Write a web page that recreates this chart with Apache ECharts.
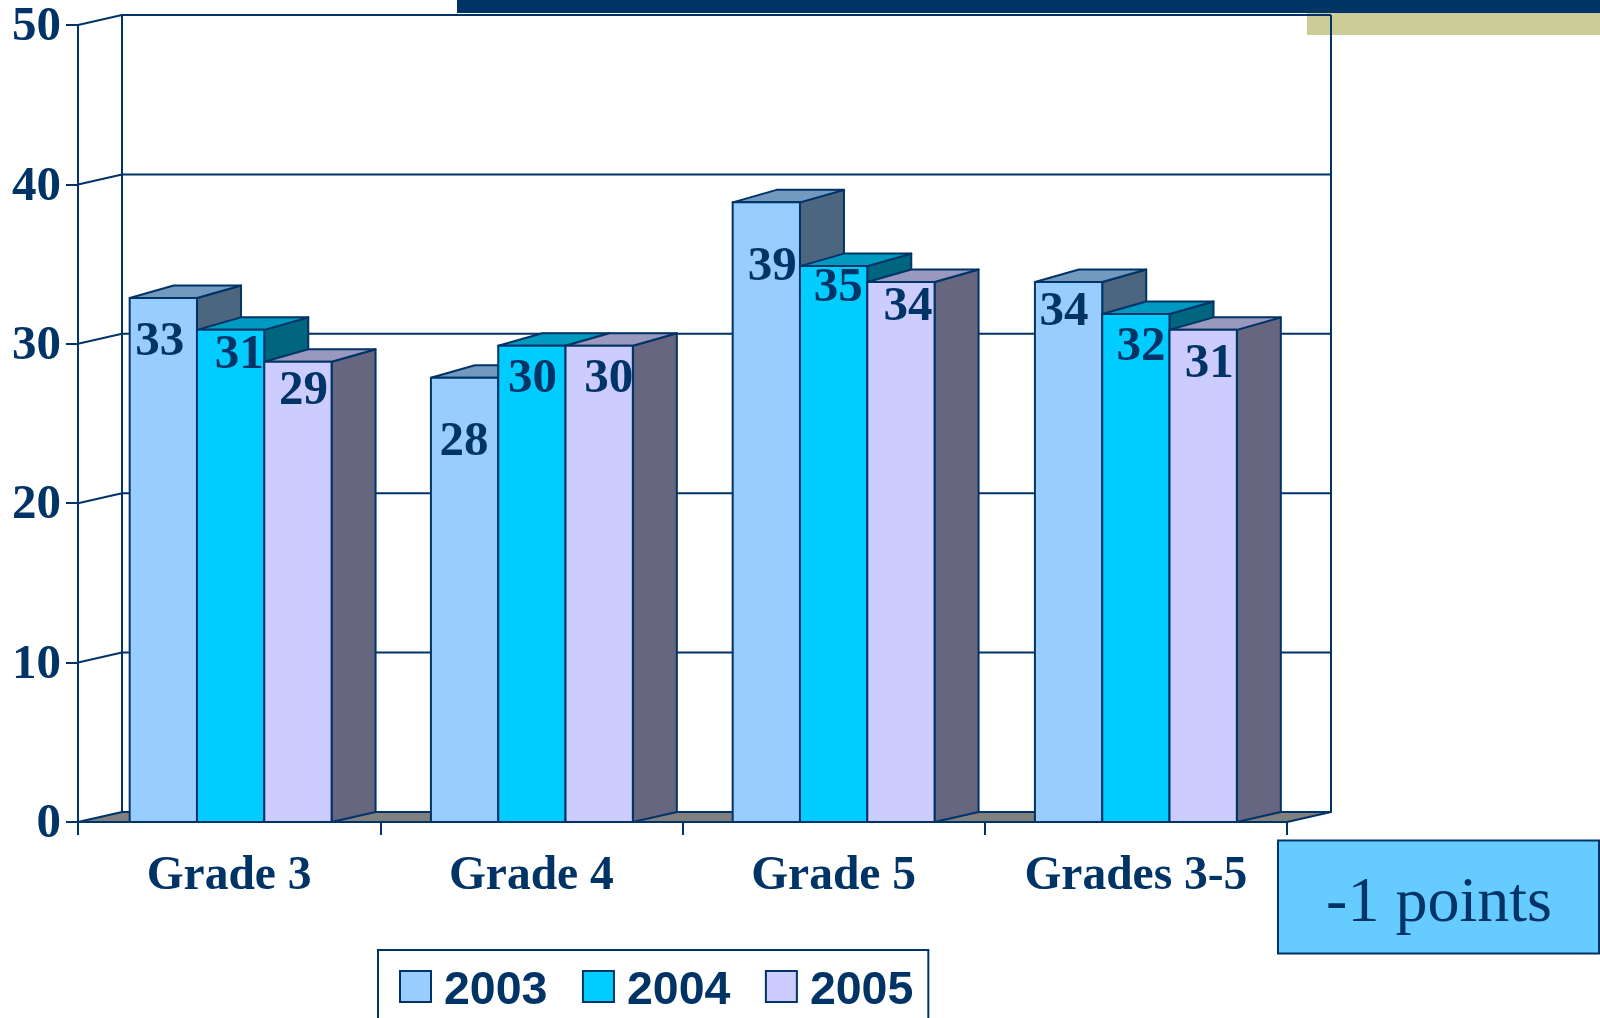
<!DOCTYPE html>
<html>
<head>
<meta charset="utf-8">
<style>html,body{margin:0;padding:0;background:#fff}#c{width:1600px;height:1018px}</style>
<script src="https://cdn.jsdelivr.net/npm/echarts@6/dist/echarts.min.js"></script>
</head>
<body>
<div id="c"></div>
<script>
// ---- data ----
const categories = ['Grade 3', 'Grade 4', 'Grade 5', 'Grades 3-5'];
const years = ['2003', '2004', '2005'];
const values2003 = [33, 28, 39, 34];
const values2004 = [31, 30, 35, 32];
const values2005 = [29, 30, 34, 31];
const yTicks = [0, 10, 20, 30, 40, 50];
const calloutText = '-1 points';

// ---- styling ----
const NAVY = '#003366';
const fronts = ['#99CCFF', '#00CCFF', '#CCCCFF'];
const tops = ['#7399BF', '#0099BF', '#9999BF'];
const sides = ['#4D6680', '#006680', '#666680'];
const DX = 44, DY = 10, TOP_DY = 12.5; // oblique depth of the 3D look
const TOP_INSET = 2;                   // the reference's bar tops sit 2px below the tick height
const BAR_FRACTION = 67.3 / 302.25;    // bar width as part of a category band
const LW = 2;
const SERIF = '"Liberation Serif","Times New Roman",serif';
// small sideways shift of each category's bar group in the reference
const groupNudge = [1.5, 0.5, 0, 0];
// hand-placed data labels of the reference: [dx from bar centre, dy from bar top]
const labelNudge = [
  [[-3, 43], [-1, 64], [5, 64], [-5.5, 29]],
  [[9, 24], [0, 33], [3.5, 21], [4, 32]],
  [[6, 29], [9, 33], [6, 24], [5, 33]]
];

function renderWall(params, api) {
  const g = params.coordSys;
  const v = api.value(0);
  const y = api.coord([0, v])[1];
  const left = g.x, right = g.x + g.width;
  const ls = { stroke: NAVY, lineWidth: LW, fill: null, lineJoin: 'round' };
  const kids = [];
  if (v === 0) {
    kids.push({ type: 'polygon', shape: { points: [[left, y], [left + DX, y - DY], [right + DX, y - DY], [right, y]] },
      style: { fill: '#808080', stroke: NAVY, lineWidth: LW, lineJoin: 'round' } });
    kids.push({ type: 'line', shape: { x1: left + DX, y1: g.y - DY, x2: left + DX, y2: y - DY }, style: ls });
    kids.push({ type: 'line', shape: { x1: right + DX, y1: g.y - DY, x2: right + DX, y2: y - DY }, style: ls });
  } else {
    kids.push({ type: 'polyline', shape: { points: [[left, y], [left + DX, y - DY], [right + DX, y - DY]] }, style: ls });
  }
  return { type: 'group', children: kids };
}

function makeBarRenderer(s) {
  return function (params, api) {
    const cat = api.value(0), v = api.value(1);
    const band = api.size([1, 0])[0];
    const w = band * BAR_FRACTION;
    const c = api.coord([cat, v]);
    const y0 = api.coord([cat, 0])[1];
    const x = c[0] + (s - 1.5) * w + groupNudge[cat], y = c[1] + TOP_INSET, r = x + w;
    const st = f => ({ fill: f, stroke: NAVY, lineWidth: LW, lineJoin: 'round' });
    const n = labelNudge[s][cat];
    return { type: 'group', children: [
      { type: 'polygon', shape: { points: [[r, y], [r + DX, y - TOP_DY], [r + DX, y0 - DY], [r, y0]] }, style: st(sides[s]) },
      { type: 'polygon', shape: { points: [[x, y], [x + DX, y - TOP_DY], [r + DX, y - TOP_DY], [r, y]] }, style: st(tops[s]) },
      { type: 'rect', shape: { x: x, y: y, width: w, height: y0 - y }, style: st(fronts[s]) },
      { type: 'text', z2: 10, style: { text: String(v), x: x + w / 2 + n[0] - groupNudge[cat] + 1, y: y + n[1] + 1, textAlign: 'center', textVerticalAlign: 'middle',
        font: 'bold 49px ' + SERIF, fill: NAVY } }
    ] };
  };
}

const allValues = [values2003, values2004, values2005];
const option = {
  backgroundColor: '#ffffff',
  animation: false,
  grid: { left: 78, top: 25, width: 1209, height: 797 },
  xAxis: {
    type: 'category', data: categories, z: 5,
    axisLine: { lineStyle: { color: NAVY, width: LW } },
    axisTick: { show: true, alignWithLabel: false, length: 13, lineStyle: { color: NAVY, width: LW } },
    axisLabel: { margin: 31, color: NAVY, fontFamily: SERIF, fontWeight: 'bold', fontSize: 47.5 }
  },
  yAxis: {
    type: 'value', min: 0, max: 50, interval: 10, z: 5,
    axisLine: { show: true, lineStyle: { color: NAVY, width: LW } },
    axisTick: { show: true, length: 12, lineStyle: { color: NAVY, width: LW } },
    axisLabel: { margin: 17, formatter: '{n|{value}}',
      rich: { n: { color: NAVY, fontFamily: SERIF, fontWeight: 'bold', fontSize: 49, padding: [5, 0, 0, 0] } } },
    splitLine: { show: false }
  },
  legend: {
    data: years, left: 378, top: 950, orient: 'horizontal',
    padding: [17.5, 15, 30, 21], itemGap: 34.5, itemWidth: 31, itemHeight: 31, icon: 'rect',
    borderColor: NAVY, borderWidth: LW, backgroundColor: '#fff',
    itemStyle: { borderColor: NAVY, borderWidth: LW },
    formatter: '{t|{name}}',
    textStyle: { color: NAVY, rich: { t: { color: NAVY, fontFamily: '"Liberation Sans",Arial,sans-serif', fontWeight: 'bold', fontSize: 46.5, padding: [9, 0, 0, 8] } } }
  },
  graphic: [
    { type: 'rect', z: -2, shape: { x: 457, y: 0, width: 1143, height: 13 }, style: { fill: NAVY } },
    { type: 'rect', z: -2, shape: { x: 1307, y: 13, width: 293, height: 22 }, style: { fill: '#CCCC99' } },
    { type: 'rect', z: 20, shape: { x: 1278, y: 840.5, width: 321, height: 113 }, style: { fill: '#66CCFF', stroke: NAVY, lineWidth: LW } },
    { type: 'text', z: 21, style: { text: calloutText, x: 1439, y: 904, textAlign: 'center', textVerticalAlign: 'middle',
      font: '64px ' + SERIF, fill: NAVY } }
  ],
  series: [
    { type: 'custom', name: 'wall', z: 1, silent: true, renderItem: renderWall, data: yTicks.map(t => [t]), encode: { y: 0 }, clip: false }
  ].concat(years.map((yr, s) => ({
    type: 'custom', name: yr, z: 2 + s, renderItem: makeBarRenderer(s), clip: false,
    itemStyle: { color: fronts[s] },
    encode: { x: 0, y: 1 },
    data: allValues[s].map((v, i) => [i, v])
  })))
};
echarts.init(document.getElementById('c')).setOption(option);
</script>
</body>
</html>
